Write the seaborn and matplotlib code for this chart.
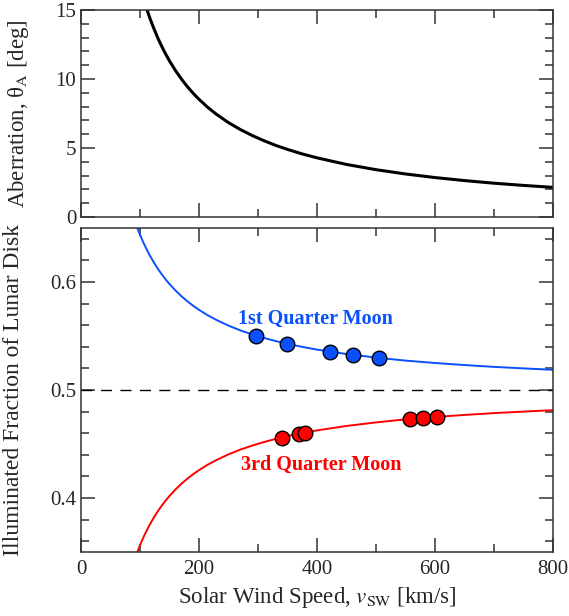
import matplotlib
matplotlib.use('Agg')
import matplotlib.pyplot as plt
import seaborn as sns
from matplotlib.ticker import MultipleLocator

# values
speed = [95, 98, 100, 103, 106, 110, 113, 116, 120, 125, 130, 135, 140, 145,
         150, 160, 170, 180, 190, 200, 215, 230, 250, 270, 290, 310, 330,
         350, 375, 400, 450, 500, 550, 600, 650, 700, 750, 800]
aberration = [17.53, 17.02, 16.70, 16.24, 15.80, 15.26, 14.87, 14.50, 14.04,
              13.50, 12.99, 12.53, 12.09, 11.69, 11.31, 10.62, 10.01, 9.46,
              8.97, 8.53, 7.94, 7.43, 6.84, 6.34, 5.91, 5.53, 5.19, 4.90,
              4.57, 4.29, 3.81, 3.43, 3.12, 2.86, 2.64, 2.45, 2.29, 2.15]
first_qtr = [0.6506, 0.6464, 0.6437, 0.6398, 0.6362, 0.6316, 0.6283, 0.6252,
             0.6213, 0.6167, 0.6124, 0.6085, 0.6048, 0.6013, 0.5981, 0.5922,
             0.5869, 0.5822, 0.5780, 0.5742, 0.5691, 0.5647, 0.5596, 0.5552,
             0.5515, 0.5482, 0.5453, 0.5427, 0.5399, 0.5374, 0.5333, 0.5300,
             0.5272, 0.5250, 0.5231, 0.5214, 0.5200, 0.5187]
third_qtr = [0.3494, 0.3536, 0.3563, 0.3602, 0.3638, 0.3684, 0.3717, 0.3748,
             0.3787, 0.3833, 0.3876, 0.3915, 0.3952, 0.3987, 0.4019, 0.4078,
             0.4131, 0.4178, 0.4220, 0.4258, 0.4309, 0.4353, 0.4404, 0.4448,
             0.4485, 0.4518, 0.4547, 0.4573, 0.4601, 0.4626, 0.4667, 0.4700,
             0.4728, 0.4750, 0.4769, 0.4786, 0.4800, 0.4813]

# observed points
first_v = [297, 349, 422, 461, 505]
first_f = [0.550, 0.543, 0.5355, 0.5325, 0.5297]
third_v = [341, 369, 380, 558, 580, 604]
third_f = [0.456, 0.4595, 0.4606, 0.4732, 0.4742, 0.4752]

BLUE = '#0a50ff'
RED = '#ff0000'

sns.set_style('ticks')
plt.rcParams['font.family'] = ['Liberation Serif', 'DejaVu Serif']
plt.rcParams['mathtext.fontset'] = 'stix'
plt.rcParams['axes.linewidth'] = 1.1
plt.rcParams['axes.edgecolor'] = '#333333'

fig = plt.figure(figsize=(5.69, 6.16), dpi=100)
ax1 = fig.add_axes([0.1424, 0.6477, 0.8295, 0.336])
ax2 = fig.add_axes([0.1424, 0.1039, 0.8295, 0.526])

# top panel: aberration angle
sns.lineplot(x=speed, y=aberration, ax=ax1, color='black', linewidth=2.2)
ax1.set_xlim(0, 800)
ax1.set_ylim(0, 15)
ax1.set_ylabel('Aberration, θ$_{\\rm A}$ [deg]', fontsize=16.5)
ax1.set_xticklabels([])

# bottom panel: illuminated fraction
ax2.axhline(0.5, color='black', linewidth=1.0, dashes=(8, 6))
sns.lineplot(x=speed, y=first_qtr, ax=ax2, color=BLUE, linewidth=1.4)
sns.lineplot(x=speed, y=third_qtr, ax=ax2, color=RED, linewidth=1.4)
sns.scatterplot(x=first_v, y=first_f, ax=ax2, color=BLUE, s=110,
                edgecolor='black', linewidth=1.0, zorder=5)
sns.scatterplot(x=third_v, y=third_f, ax=ax2, color=RED, s=110,
                edgecolor='black', linewidth=1.0, zorder=5)
ax2.text(397, 0.5657, '1st Quarter Moon', color=BLUE, fontsize=14.5,
         fontweight='bold', ha='center', va='center')
ax2.text(407, 0.4306, '3rd Quarter Moon', color=RED, fontsize=14.5,
         fontweight='bold', ha='center', va='center')
ax2.set_xlim(0, 800)
ax2.set_ylim(0.35, 0.65)
ax2.set_ylabel('Illuminated Fraction of Lunar Disk', fontsize=17)
ax2.set_xlabel('Solar Wind Speed, $v_{\\rm SW}$ [km/s]', fontsize=16.5)

for ax in (ax1, ax2):
    ax.xaxis.set_major_locator(MultipleLocator(200))
    ax.xaxis.set_minor_locator(MultipleLocator(100))
    ax.tick_params(which='both', direction='in', top=True, right=True,
                   labelsize=15, color='#333333')
    ax.tick_params(which='major', length=10, width=1.1)
    ax.tick_params(which='minor', length=6, width=1.1)
    for s in ax.spines.values():
        s.set_visible(True)
ax2.tick_params(axis='x', pad=6)

ax1.yaxis.set_major_locator(MultipleLocator(5))
ax1.yaxis.set_minor_locator(MultipleLocator(1))
ax2.yaxis.set_major_locator(MultipleLocator(0.1))
ax2.yaxis.set_minor_locator(MultipleLocator(0.02))
ax2.set_yticks([0.4, 0.5, 0.6])
ax2.set_yticklabels(['0.4', '0.5', '0.6'])
ax1.yaxis.set_label_coords(-0.105, 0.5)
ax2.yaxis.set_label_coords(-0.12, 0.5)

fig.savefig('out.png', dpi=100)
